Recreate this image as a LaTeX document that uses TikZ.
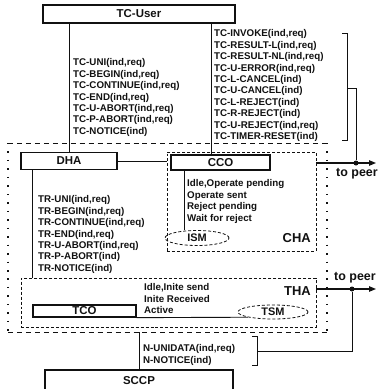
\documentclass[tikz,border=0pt]{standalone}
\usepackage{fontspec}
\setsansfont{Liberation Sans}
\usetikzlibrary{arrows.meta,calc,positioning,shapes.geometric}
\definecolor{ScanInk}{HTML}{111111}
\definecolor{ScanPaper}{HTML}{FFFFFF}
\tikzset{
  every node/.style={font=\sffamily\bfseries, text=ScanInk},
  unitbox/.style={rectangle, draw=ScanInk, line width=1.3pt, fill=ScanPaper, inner sep=0pt, font=\sffamily\bfseries\fontsize{11.5}{13}\selectfont},
  handler/.style={rectangle, draw=ScanInk, line width=0.8pt, dash pattern=on 3pt off 2pt},
  machine/.style={ellipse, draw=ScanInk, line width=0.8pt, dash pattern=on 3pt off 2pt, inner sep=0pt, font=\sffamily\bfseries\fontsize{11}{13}\selectfont},
  signals/.style={anchor=north west, inner sep=0pt, align=left, font=\sffamily\bfseries\fontsize{9.8}{11.5}\selectfont},
  arealabel/.style={anchor=east, inner sep=0pt, font=\sffamily\bfseries\fontsize{13}{15}\selectfont},
  peerlabel/.style={inner sep=0pt, font=\sffamily\bfseries\fontsize{12.5}{14}\selectfont},
  link/.style={draw=ScanInk, line width=0.9pt},
  frameH/.style={draw=ScanInk, line width=1pt, dash pattern=on 5pt off 4pt},
  frameV/.style={draw=ScanInk, line width=1.4pt, dash pattern=on 1.5pt off 7pt},
  peer/.style={-{Triangle[length=7bp,width=5.5bp]}, draw=ScanInk, line width=1.1pt},
  junction/.style={circle, fill=ScanInk, inner sep=0pt, minimum size=5bp},
}

\begin{document}
\begin{tikzpicture}[x=1bp,y=-1bp]
  \path[use as bounding box, fill=ScanPaper] (0,0) rectangle (379,389);
  % TC user and its primitives
  \node[unitbox, minimum width=192bp, minimum height=18bp] (user) at (139,14) {TC-User};
  \node[signals] (dialogue) at (73,58.4) {TC-UNI(ind,req)\\TC-BEGIN(ind,req)\\TC-CONTINUE(ind,req)\\TC-END(ind,req)\\TC-U-ABORT(ind,req)\\TC-P-ABORT(ind,req)\\TC-NOTICE(ind)};
  \node[signals] (component) at (214,29.4) {TC-INVOKE(ind,req)\\TC-RESULT-L(ind,req)\\TC-RESULT-NL(ind,req)\\TC-U-ERROR(ind,req)\\TC-L-CANCEL(ind)\\TC-U-CANCEL(ind)\\TC-L-REJECT(ind)\\TC-R-REJECT(ind)\\TC-U-REJECT(ind,req)\\TC-TIMER-RESET(ind)};
  % TCAP frame
  \coordinate (tcNW) at (8,143);
  \coordinate (tcSE) at (327,332);
  \draw[frameH] (tcNW) -- (tcNW -| tcSE);
  \draw[frameH] (tcNW |- tcSE) -- (tcSE);
  \draw[frameV] (tcNW) -- (tcNW |- tcSE);
  \draw[frameV] (tcNW -| tcSE) -- (tcSE);
  % DHA and CHA
  \node[unitbox, minimum width=96bp, minimum height=17bp] (dha) at (69,161) {DHA};
  \node[handler, minimum width=149bp, minimum height=99bp] (cha) at (241.5,201.5) {};
  \node[unitbox, minimum width=99bp, minimum height=15bp] (cco) at (220.5,162.5) {CCO};
  \node[signals] (invstates) at (187,179.4) {Idle,Operate pending\\Operate sent\\Reject pending\\Wait for reject};
  \node[machine, minimum width=64bp, minimum height=15bp] (ism) at (197,238) {ISM};
  \node[arealabel] (chalabel) at (311,238) {CHA};
  % THA
  \node[signals] (trprims) at (38,195.4) {TR-UNI(ind,req)\\TR-BEGIN(ind,req)\\TR-CONTINUE(ind,req)\\TR-END(ind,req)\\TR-U-ABORT(ind,req)\\TR-P-ABORT(ind)\\TR-NOTICE(ind)};
  \node[handler, minimum width=295bp, minimum height=49bp] (tha) at (168.5,302.5) {};
  \node[arealabel] (thalabel) at (311,291) {THA};
  \node[signals] (trstates) at (144,283.4) {Idle,Inite send\\Inite Received\\Active};
  \node[unitbox, minimum width=103bp, minimum height=12bp] (tco) at (84.5,311) {TCO};
  \node[machine, minimum width=70bp, minimum height=14bp] (tsm) at (273,312) {TSM};
  % SCCP
  \node[signals] (nprims) at (143,344.4) {N-UNIDATA(ind,req)\\N-NOTICE(ind)};
  \node[unitbox, minimum width=188bp, minimum height=22bp] (sccp) at (139,381) {SCCP};
  % connectors
  \draw[link] (dha.north |- user.south) -- (dha.north);
  \draw[link] ([xshift=-9.5bp]cco.north |- user.south) -- ([xshift=-9.5bp]cco.north);
  \draw[link] (dha.east) -- (dha.east -| cha.west);
  \draw[link] ([xshift=14bp]cco.south west) -- ([xshift=14bp]cco.south west |- ism.north);
  \draw[link] ([xshift=12bp]dha.south west) -- ([xshift=12bp]dha.south west |- tha.north);
  \draw[link] (tco.south east) -- (tsm.south west);
  \draw[link] (sccp.north |- tcSE) -- (sccp.north);
  % to peer
  \node[junction] (jointA) at (356,163) {};
  \node[junction] (jointB) at (352,289) {};
  \coordinate (peerA) at (376,163);
  \coordinate (peerB) at (376,289);
  \coordinate (bracketA) at (347,88);
  \coordinate (bracketB) at (257,351);
  \draw[link] (342,33) -- (347,33) -- (347,140) -- (342,140);
  \draw[link] (252,336) -- (257,336) -- (257,365) -- (252,365);
  \draw[link] (bracketA) -| (jointA);
  \draw[link] (bracketB) -| (jointB);
  \draw[peer] (cha.east |- jointA) -- (peerA);
  \draw[peer] (tha.east |- jointB) -- (peerB);
  \node[peerlabel] (toPeerA) at (357,174) {to peer};
  \node[peerlabel] (toPeerB) at (355,278) {to peer};
\end{tikzpicture}
\end{document}
